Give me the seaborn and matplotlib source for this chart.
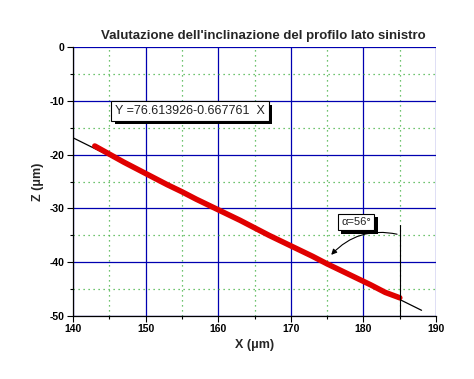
import matplotlib
matplotlib.use("Agg")
import matplotlib.pyplot as plt
import matplotlib.patheffects as pe
import seaborn as sns
import numpy as np
import pandas as pd
from matplotlib.ticker import MultipleLocator

title = "Valutazione dell'inclinazione del profilo lato sinistro"
x_data = [143, 145, 147, 149, 151, 153, 155, 157, 159, 161, 163, 165, 167, 169, 171,
          173, 175, 177, 179, 181, 183, 185]
z_data = [-18.4, -19.9, -21.4, -22.8, -24.2, -25.6, -26.9, -28.3, -29.6, -30.9, -32.2,
          -33.6, -35.0, -36.3, -37.6, -38.9, -40.3, -41.6, -42.9, -44.2, -45.6, -46.6]
fit_intercept = 76.613926
fit_slope = -0.667761
fit_x = [140, 188]
equation_label = "Y =76.613926-0.667761  X"
angle_label = "α=56°"
x_ticks = [140, 150, 160, 170, 180, 190]
y_ticks = [0, -10, -20, -30, -40, -50]

sns.set_style("white")
plt.rcParams['font.family'] = ['Liberation Sans', 'DejaVu Sans']

fig = plt.figure(figsize=(4.74, 3.79), dpi=100)
ax = fig.add_axes([0.154, 0.166, 0.766, 0.710])

df = pd.DataFrame({"X": x_data, "Z": z_data})
fit_df = pd.DataFrame({"X": fit_x, "Z": [fit_intercept + fit_slope * v for v in fit_x]})

ax.set_xlim(140, 190)
ax.set_ylim(-50, 0)
ax.xaxis.set_major_locator(MultipleLocator(10))
ax.xaxis.set_minor_locator(MultipleLocator(5))
ax.yaxis.set_major_locator(MultipleLocator(10))
ax.yaxis.set_minor_locator(MultipleLocator(5))
ax.grid(which='major', color='#0000b0', lw=0.9, ls='-')
ax.grid(which='minor', color='#40b040', lw=0.9, ls=(0, (1, 3)))
ax.set_axisbelow(True)

sns.lineplot(data=fit_df, x="X", y="Z", ax=ax, color='black', lw=0.9, zorder=3)
sns.lineplot(data=df, x="X", y="Z", ax=ax, color='#e00000', lw=4.0, zorder=4)

# vertical reference line
ax.plot([185, 185], [-33, -50], color='black', lw=0.8, zorder=5)
ax.annotate("", xy=(175.3, -39.0), xytext=(185, -34.9),
            arrowprops=dict(arrowstyle='-|>', color='black', lw=0.8,
                            connectionstyle='arc3,rad=0.3', mutation_scale=8), zorder=5)

def shadow_text(x, y, s, size):
    t = ax.text(x, y, s, ha='center', va='center', fontsize=size, color='#222222',
                bbox=dict(boxstyle='square,pad=0.3', fc='white', ec='black', lw=0.8), zorder=7)
    t.get_bbox_patch().set_path_effects([
        pe.SimplePatchShadow(offset=(2.5, -2.5), shadow_rgbFace='black', alpha=1.0),
        pe.Normal()])
    return t

shadow_text(156.1, -11.9, equation_label, 9)
shadow_text(179.0, -32.5, angle_label, 8)

ax.set_xticks(x_ticks)
ax.set_yticks(y_ticks)
ax.set_xticklabels([str(v) for v in x_ticks], fontweight='bold', fontsize=7.5)
ax.set_yticklabels([str(v) for v in y_ticks], fontweight='bold', fontsize=7.5)
ax.tick_params(which='major', direction='out', length=4, width=0.8, colors='black', pad=2,
               bottom=True, left=True)
ax.tick_params(which='minor', direction='out', length=2, width=0.8, colors='black',
               bottom=True, left=True)
for s in ['top', 'right']:
    ax.spines[s].set_visible(False)
for s in ['left', 'bottom']:
    ax.spines[s].set_color('black')
    ax.spines[s].set_linewidth(0.9)

ax.set_xlabel("X (μm)", fontweight='bold', fontsize=9, labelpad=3)
ax.set_ylabel("Z (μm)", fontweight='bold', fontsize=9, labelpad=4)
fig.text(0.555, 0.905, title, ha='center', va='center', fontweight='bold', fontsize=9.5)

fig.savefig("out.png", dpi=100)
